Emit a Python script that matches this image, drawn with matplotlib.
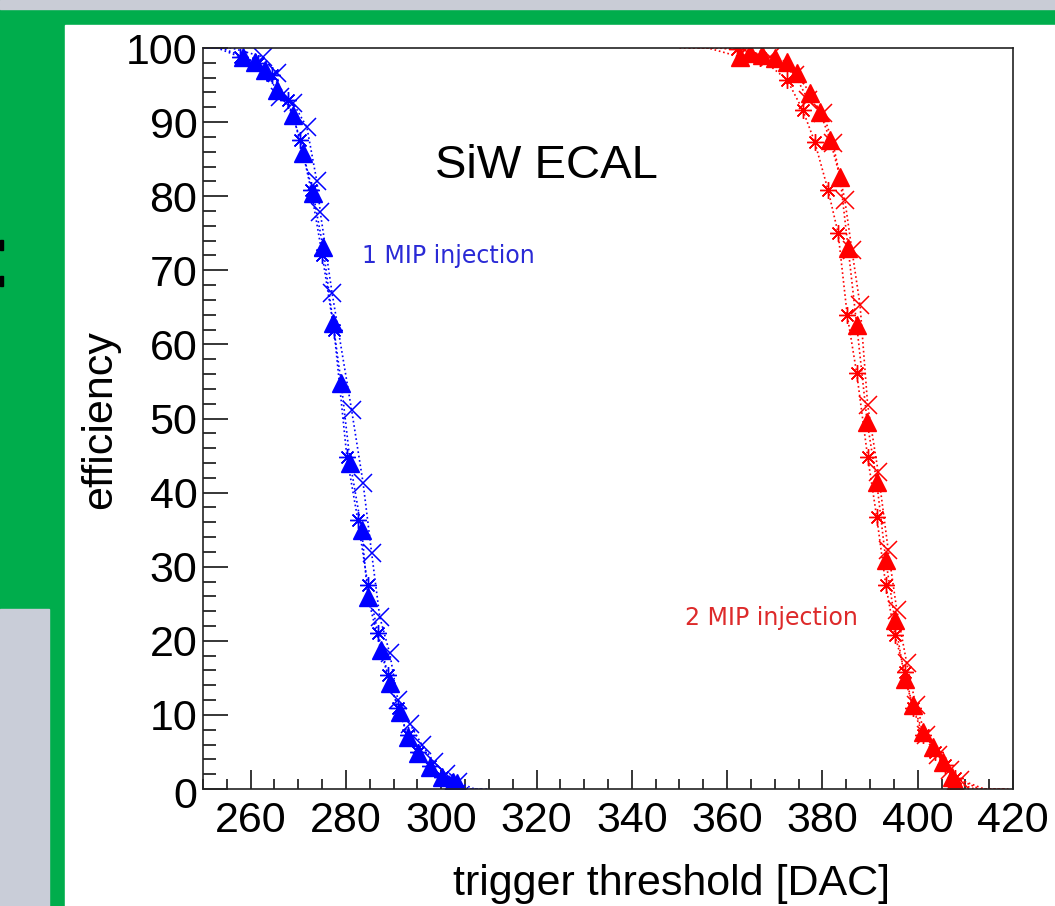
import matplotlib
matplotlib.use("Agg")
import matplotlib.pyplot as plt
from matplotlib.patches import Rectangle
from matplotlib.ticker import MultipleLocator, FuncFormatter

# 1 MIP injection (blue), three channels
blue_tri_x = [250, 254, 258.4, 260.9, 263.0, 265.5, 268.9, 271.0, 273.1, 275.2, 277.3, 279.0, 280.9,
              283.3, 284.6, 287.3, 289.2, 291.3, 293.0, 295.1, 297.6, 300.1, 302.5, 303.3, 306, 309]
blue_tri_y = [100, 100, 98.8, 98.1, 97.0, 94.3, 91.0, 85.8, 80.4, 73.1, 62.9, 54.8, 44.0,
              35.0, 25.9, 18.8, 14.3, 10.4, 7.0, 4.9, 3.0, 1.6, 0.9, 0.8, 0, 0]
blue_x_x = [250, 256, 262.6, 265.5, 266.2, 268.9, 271.8, 273.9, 274.6, 277.1, 281.2, 283.6, 285.4,
            287.1, 289.2, 290.9, 293.4, 296.0, 298.5, 301.0, 303.5, 307, 310]
blue_x_y = [100, 100, 98.8, 96.6, 93.4, 92.6, 89.3, 82.0, 77.9, 66.9, 51.1, 41.3, 31.8,
            23.2, 18.3, 12.0, 8.8, 5.9, 3.6, 2.0, 0.9, 0, 0]
blue_st_x = [250, 253, 257.8, 261.5, 264.5, 267.8, 270.4, 272.7, 275.0, 277.5, 280.2, 282.5, 284.6,
             286.7, 288.8, 290.9, 293.0, 295.1, 297.6, 300.2, 302.3, 305, 308]
blue_st_y = [100, 100, 98.8, 98.0, 96.4, 93.0, 87.6, 80.8, 72.1, 61.9, 44.8, 36.3, 27.5,
             21.1, 15.4, 10.9, 7.3, 5.0, 3.1, 1.6, 0.9, 0, 0]

# 2 MIP injection (red), three channels
red_tri_x = [350, 356, 362.7, 364.8, 367.3, 370.0, 372.6, 374.6, 377.4, 379.5, 381.6, 383.7, 385.4,
             387.2, 389.4, 391.4, 393.3, 395.2, 397.3, 399.0, 401.1, 403.2, 405.3, 407.2, 407.8,
             412, 419]
red_tri_y = [100, 100, 98.8, 99.3, 99.1, 98.7, 98.1, 96.6, 93.9, 91.4, 87.6, 82.6, 73.0,
             62.6, 49.5, 41.4, 30.9, 22.8, 14.8, 11.3, 7.7, 5.7, 3.6, 1.6, 0.9,
             0, 0]
red_st_x = [352, 358, 362.1, 366.9, 372.6, 375.9, 378.4, 381.2, 383.3, 385.2, 387.2, 389.5, 391.4,
            393.3, 395.2, 397.3, 399.0, 401.1, 403.6, 405.7, 407.8, 414, 419]
red_st_y = [100, 100, 99.8, 98.7, 95.7, 91.6, 87.3, 80.8, 75.0, 64.0, 56.1, 44.8, 36.7,
            27.5, 20.8, 15.8, 10.9, 7.3, 5.0, 3.2, 1.5, 0, 0]
red_x_x = [354, 359, 363.7, 369.0, 374.2, 377.0, 380.1, 382.2, 384.7, 386.2, 387.9, 389.5, 391.7,
           393.8, 395.6, 397.7, 399.6, 401.7, 404.2, 406.8, 408.9, 413, 418]
red_x_y = [100, 100, 99.7, 98.8, 96.4, 93.0, 91.2, 87.2, 79.5, 72.7, 65.3, 51.8, 42.8,
           32.3, 24.2, 17.0, 11.3, 7.3, 4.6, 2.6, 1.2, 0, 0]

W, H = 1055, 906
fig = plt.figure(figsize=(W / 100, H / 100), dpi=100)
fig.patch.set_facecolor("#00ad4c")


def box(x0, y0, x1, y1, color):
    # pixel box, origin top-left
    fig.patches.append(Rectangle((x0 / W, 1 - y1 / H), (x1 - x0) / W, (y1 - y0) / H,
                                 transform=fig.transFigure, color=color, zorder=-1))


box(0, 0, W, 9, "#c9ccd6")
box(65, 25, W, H, "white")
box(0, 609, 49, H, "#c9cdd8")
box(0, 240, 3, 250, "black")
box(0, 276, 3, 286, "black")

ax = fig.add_axes([203 / W, 1 - 789 / H, 810 / W, 741 / H])
ax.set_zorder(2)
ax.set_facecolor("white")

# flat parts (first two / last two points) are drawn as line only
ls = dict(linestyle=":", linewidth=1.2, markevery=slice(2, -2))
ax.plot(blue_tri_x, blue_tri_y, color="blue", marker="^", ms=13, **ls)
ax.plot(blue_x_x, blue_x_y, color="blue", marker="x", ms=13, mew=1.1, **ls)
ax.plot(blue_st_x, blue_st_y, color="blue", marker=(8, 2, 0), ms=12, mew=1.0, **ls)
ax.plot(red_tri_x, red_tri_y, color="red", marker="^", ms=13, **ls)
ax.plot(red_st_x, red_st_y, color="red", marker=(8, 2, 0), ms=12, mew=1.0, **ls)
ax.plot(red_x_x, red_x_y, color="red", marker="x", ms=13, mew=1.1, **ls)

ax.set_xlim(250, 420)
ax.set_ylim(0, 100)
ax.xaxis.set_major_locator(MultipleLocator(20))
ax.xaxis.set_minor_locator(MultipleLocator(5))
ax.yaxis.set_major_locator(MultipleLocator(10))
ax.yaxis.set_minor_locator(MultipleLocator(2))
ax.yaxis.set_major_formatter(FuncFormatter(lambda v, p: "" if v == 0 else "%d" % v))
ax.tick_params(axis="x", which="major", direction="in", length=14, width=1.1, pad=9,
               labelsize=31, top=False)
ax.tick_params(axis="x", which="minor", direction="in", length=7, width=1.1, top=False)
ax.tick_params(axis="y", which="major", direction="in", length=18, width=1.1, pad=4,
               labelsize=31, right=False)
ax.tick_params(axis="y", which="minor", direction="in", length=9, width=1.1, right=False)
for lab in ax.get_xticklabels() + ax.get_yticklabels():
    lab.set_family("Liberation Sans")
for sp in ax.spines.values():
    sp.set_linewidth(1.2)
    sp.set_color("#222222")

# ROOT puts the "0" a bit lower than the tick
ax.annotate("0", xy=(0, 0), xycoords="axes fraction", xytext=(-4, -6),
            textcoords="offset points", ha="right", va="center",
            fontsize=31, family="Liberation Sans")

fig.text(100 / W, 1 - 420 / H, "efficiency", rotation=90, ha="center", va="center",
         fontsize=31, family="Liberation Sans")
fig.text(672 / W, 1 - 895 / H, "trigger threshold [DAC]", ha="center", va="baseline",
         fontsize=31, family="Liberation Sans")
fig.text(435 / W, 1 - 178 / H, "SiW ECAL", ha="left", va="baseline",
         fontsize=34, family="Liberation Sans")
fig.text(362 / W, 1 - 256 / H, "1 MIP injection", ha="left", va="center",
         fontsize=17, family="DejaVu Sans", color="#2a2ad6")
fig.text(685 / W, 1 - 618 / H, "2 MIP injection", ha="left", va="center",
         fontsize=17, family="DejaVu Sans", color="#dd2a2a")

fig.savefig("out.png", dpi=100, facecolor=fig.get_facecolor())
